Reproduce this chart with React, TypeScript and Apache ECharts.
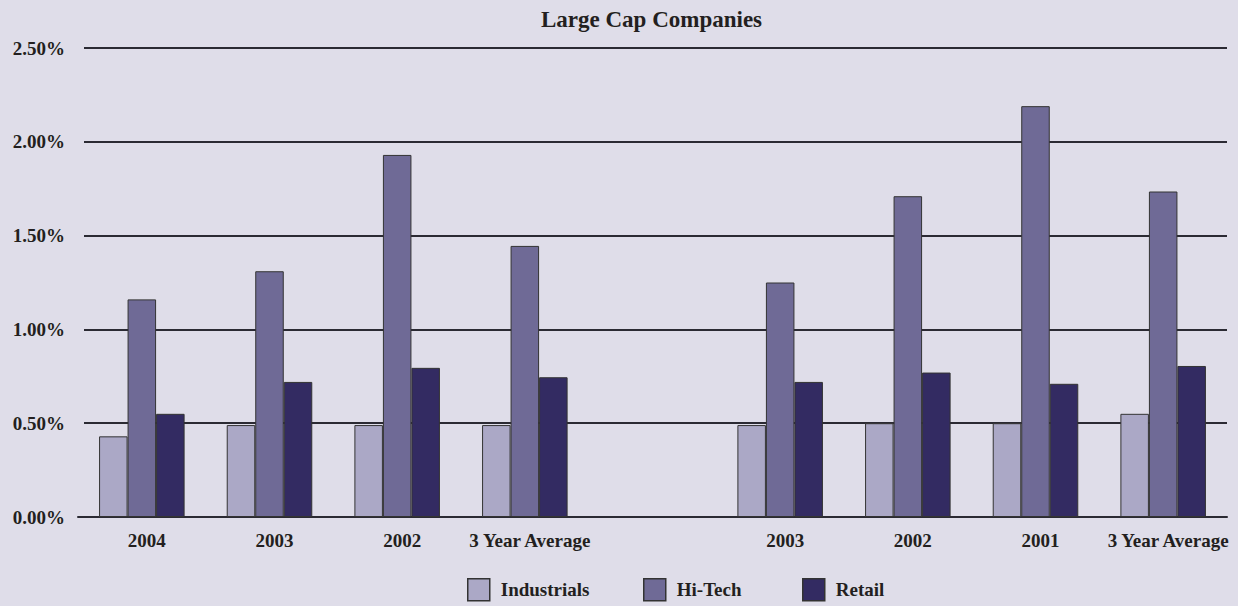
import React, { useEffect, useRef } from "react";
import * as echarts from "echarts";

const categories = ["2004", "2003", "2002", "3 Year Average", "", "2003", "2002", "2001", "3 Year Average"];
const industrials = [0.43, 0.49, 0.49, 0.49, null, 0.49, 0.5, 0.5, 0.55];
const hiTech = [1.16, 1.31, 1.93, 1.445, null, 1.25, 1.71, 2.19, 1.735];
const retail = [0.55, 0.72, 0.795, 0.745, null, 0.72, 0.77, 0.71, 0.805];
const seriesNames = ["Industrials", "Hi-Tech", "Retail"];
const colors = ["#aba8c6", "#6f6a96", "#332b62"];
const yTicks = [0, 0.5, 1, 1.5, 2, 2.5];

const FONT = "'Liberation Serif', 'DejaVu Serif', serif";
const BG = "#dfdde9";
const TXT = "#231f20";

export default function App() {
  const ref = useRef<HTMLDivElement>(null);
  useEffect(() => {
    if (!ref.current) return;
    const chart = echarts.init(ref.current, undefined, { renderer: "svg" });
    const datas = [industrials, hiTech, retail];
    const legendLefts = [467, 643, 802];
    chart.setOption({
      animation: false,
      backgroundColor: BG,
      title: {
        text: "Large Cap Companies",
        left: 536,
        top: 3,
        textStyle: { fontFamily: FONT, fontWeight: "bold", fontSize: 23, color: TXT },
      },
      legend: seriesNames.map((name, i) => ({
        top: 578,
        left: legendLefts[i],
        padding: 0,
        itemWidth: 22,
        itemHeight: 22,
        icon: "rect",
        data: [name],
        itemStyle: { borderColor: "#333", borderWidth: 1.5 },
        textStyle: { fontFamily: FONT, fontWeight: "bold", fontSize: 19, color: TXT, padding: [5, 0, 0, 6] },
      })),
      grid: { left: 78, right: 11, top: 48, bottom: 89, containLabel: false },
      xAxis: {
        type: "category",
        data: categories,
        axisLine: { show: true, lineStyle: { color: "#2b2a33", width: 2 } },
        axisTick: { show: false },
        axisLabel: {
          fontFamily: FONT,
          fontWeight: "bold",
          fontSize: 19,
          color: TXT,
          margin: 14,
          interval: 0,
          padding: [0, 0, 0, 10],
        },
      },
      yAxis: {
        type: "value",
        min: yTicks[0],
        max: yTicks[yTicks.length - 1],
        interval: 0.5,
        axisLine: { show: false },
        axisTick: { show: false },
        splitLine: { lineStyle: { color: "#2b2a33", width: 2 } },
        axisLabel: {
          fontFamily: FONT,
          fontWeight: "bold",
          fontSize: 19,
          color: TXT,
          margin: 13,
          padding: [0, 0, 7, 0],
          formatter: (v: number) => v.toFixed(2) + "%",
        },
      },
      graphic: [
        {
          type: "rect",
          left: 76,
          top: 40,
          z: 100,
          shape: { width: 8, height: 470 },
          style: { fill: BG },
        },
      ],
      series: seriesNames.map((name, i) => ({
        name,
        type: "bar",
        data: datas[i],
        barGap: "0%",
        barCategoryGap: "33%",
        itemStyle: { color: colors[i], borderColor: "#333", borderWidth: 1 },
      })),
    });
    return () => chart.dispose();
  }, []);
  return <div ref={ref} style={{ position: "fixed", left: 0, top: 0, width: 1238, height: 606 }} />;
}
